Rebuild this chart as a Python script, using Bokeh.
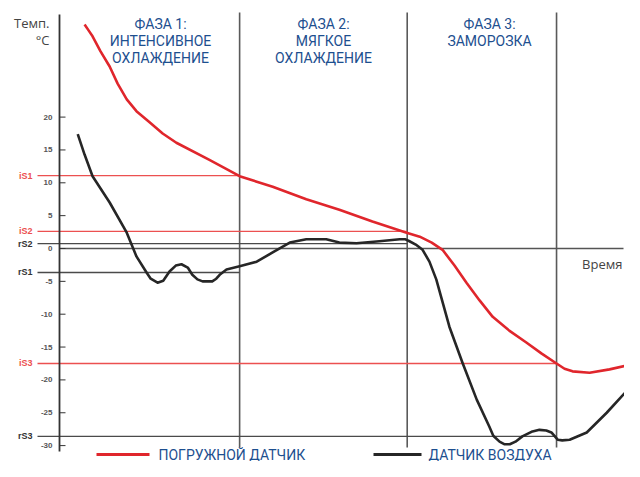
from bokeh.plotting import figure
from bokeh.models import Range1d
from bokeh.embed import file_html
from bokeh.resources import INLINE
from bokeh.core.properties import value

# ---------------- data ----------------
probe_time = [4.4, 5.1, 5.8, 7.2, 8.8, 10.2, 11.8, 13.5, 15.8, 18.1, 20.5, 26.3, 31.6,
              37.4, 43.3, 49.1, 54.9, 60.9, 63.2, 65.3, 67.2, 69.3, 71.4, 73.7, 76.0,
              78.9, 81.9, 84.6, 87.2, 88.6, 90.0, 93.0, 96.5, 100.0]
probe_temp = [34.1, 33.2, 32.3, 30.0, 27.7, 25.1, 22.7, 20.9, 19.2, 17.5, 16.1, 13.5, 11.0,
              9.4, 7.5, 5.9, 4.1, 2.4, 1.8, 0.9, -0.2, -2.6, -5.2, -7.9, -10.4,
              -12.5, -14.3, -16.0, -17.5, -18.3, -18.7, -18.9, -18.4, -17.7]

air_time = [3.2, 4.4, 5.8, 8.8, 11.8, 13.5, 15.3, 16.0, 17.2, 18.2, 19.3, 20.4, 21.4,
            22.5, 23.3, 24.2, 25.1, 26.8, 27.5, 28.1, 29.3, 31.6, 34.6, 37.4, 40.4,
            43.3, 46.8, 49.1, 52.1, 56.1, 59.7, 60.7, 61.4, 62.5, 63.7, 64.9, 66.1,
            68.4, 70.7, 73.2, 75.4, 76.1, 77.2, 78.1, 79.0, 80.0, 81.2, 82.8, 84.2,
            85.4, 86.3, 87.4, 88.2, 89.5, 92.5, 96.0, 100.0]
air_temp = [17.4, 14.3, 11.0, 7.0, 2.4, -1.2, -3.7, -4.6, -5.2, -4.9, -3.5, -2.6, -2.4,
            -2.9, -4.0, -4.7, -5.0, -5.0, -4.6, -4.0, -3.2, -2.7, -2.0, -0.6, 0.9,
            1.4, 1.4, 0.9, 0.8, 1.1, 1.4, 1.4, 1.1, 0.6, -0.2, -2.0, -4.7,
            -11.9, -17.4, -23.0, -27.1, -28.5, -29.4, -29.8, -29.8, -29.4, -28.6, -27.9, -27.6,
            -27.7, -28.0, -29.1, -29.2, -29.1, -28.0, -25.0, -21.2]

phase_ends = [31.6, 61.0, 87.2]
phase_titles = [["ФАЗА 1:", "ИНТЕНСИВНОЕ", "ОХЛАЖДЕНИЕ"],
                ["ФАЗА 2:", "МЯГКОЕ", "ОХЛАЖДЕНИЕ"],
                ["ФАЗА 3:", "ЗАМОРОЗКА"]]
y_ticks = [20, 15, 10, 5, 0, -5, -10, -15, -20, -25, -30]

thr_names = ["iS1", "iS2", "rS2", "rS1", "iS3", "rS3"]
thr_values = [11.1, 2.6, 0.75, -3.65, -17.5, -28.6]
thr_phase = [0, 1, 1, 0, 2, 2]

legend_labels = ["ПОГРУЖНОЙ ДАТЧИК", "ДАТЧИК ВОЗДУХА"]
axis_title = ["Темп.", "°C"]
time_title = "Время"

# ---------------- layout helpers (page pixel -> data) ----------------
X0, XS = 60.0, 5.7     # page x of time 0, px per time unit
Y0, YS = 249.0, 6.57   # page y of 0 °C, px per degree
OFF = 1                # page offset of the figure


def tx(px):
    return (px - X0) / XS


def ty(py):
    return (Y0 - py) / YS


W, H = 624, 461
p = figure(width=W, height=H, output_backend="svg", toolbar_location=None,
           x_range=Range1d(tx(OFF), tx(OFF + W)), y_range=Range1d(ty(OFF + H), ty(OFF)),
           x_axis_type=None, y_axis_type=None, min_border=0)
p.grid.visible = False
p.outline_line_color = None
p.background_fill_color = "white"

RED = "#e0262c"
RED_T = "#ec5050"
DARK = "#262626"
GRAY = "#4a4a4a"
BLUE = "#1d4f8f"
TFONT = value("Roboto")

# phase lines
p.segment(x0=phase_ends, x1=phase_ends, y0=ty(13), y1=ty(448),
          line_color="#5a5a5a", line_width=1.6)

# thresholds
for name, v, ph in zip(thr_names, thr_values, thr_phase):
    is_i = name.startswith("i")
    p.segment(x0=[tx(38)], x1=[phase_ends[ph]], y0=[v], y1=[v],
              line_color=RED_T if is_i else GRAY, line_width=1.3)
    p.text(x=[tx(33)], y=[v], text=[name], text_align="right", text_baseline="middle",
           text_font=value("Liberation Sans"), text_font_style="bold",
           text_font_size="9px", text_color=RED_T if is_i else "#333333")

# time axis
p.segment(x0=[0], x1=[tx(624)], y0=[0], y1=[0], line_color="#555555", line_width=1.4)
p.text(x=[tx(623)], y=[ty(264)], text=[time_title], text_align="right",
       text_baseline="middle", text_font=value("Open Sans"), text_font_size="13px",
       text_color="#444444")

# y axis
p.segment(x0=[0], x1=[0], y0=[ty(15)], y1=[ty(452)], line_color="#333333", line_width=1.8)
p.segment(x0=[0] * len(y_ticks), x1=[tx(66)] * len(y_ticks), y0=y_ticks, y1=y_ticks,
          line_color="#333333", line_width=1)
p.text(x=[tx(53)] * len(y_ticks), y=y_ticks, text=[str(t) for t in y_ticks],
       text_align="right", text_baseline="middle", text_font=value("Liberation Sans"),
       text_font_style="bold", text_font_size="8px", text_color="#555555")
p.text(x=[tx(50), tx(50)], y=[ty(23), ty(40)], text=axis_title, text_align="right",
       text_baseline="middle", text_font=value("Open Sans"), text_font_size="13px",
       text_color="#444444")

# curves
p.line(probe_time, probe_temp, line_color=RED, line_width=2.6, line_join="round")
p.line(air_time, air_temp, line_color=DARK, line_width=2.6, line_join="round")

# phase titles
title_cx = [161, 324, 490]
for cx, lines in zip(title_cx, phase_titles):
    for i, s in enumerate(lines):
        p.text(x=[tx(cx)], y=[ty(24 + 17 * i)], text=[s], text_align="center",
               text_baseline="middle", text_font=TFONT, text_font_size="14px",
               text_color=BLUE)

# legend
LY = 455
p.segment(x0=[tx(97), tx(374)], x1=[tx(150), tx(422)], y0=[ty(LY)] * 2, y1=[ty(LY)] * 2,
          line_color=[RED, DARK], line_width=3)
p.text(x=[tx(159), tx(429)], y=[ty(LY)] * 2, text=legend_labels, text_align="left",
       text_baseline="middle", text_font=TFONT, text_font_size="14px", text_color=BLUE)

open("out.html", "w").write(file_html(p, INLINE))
